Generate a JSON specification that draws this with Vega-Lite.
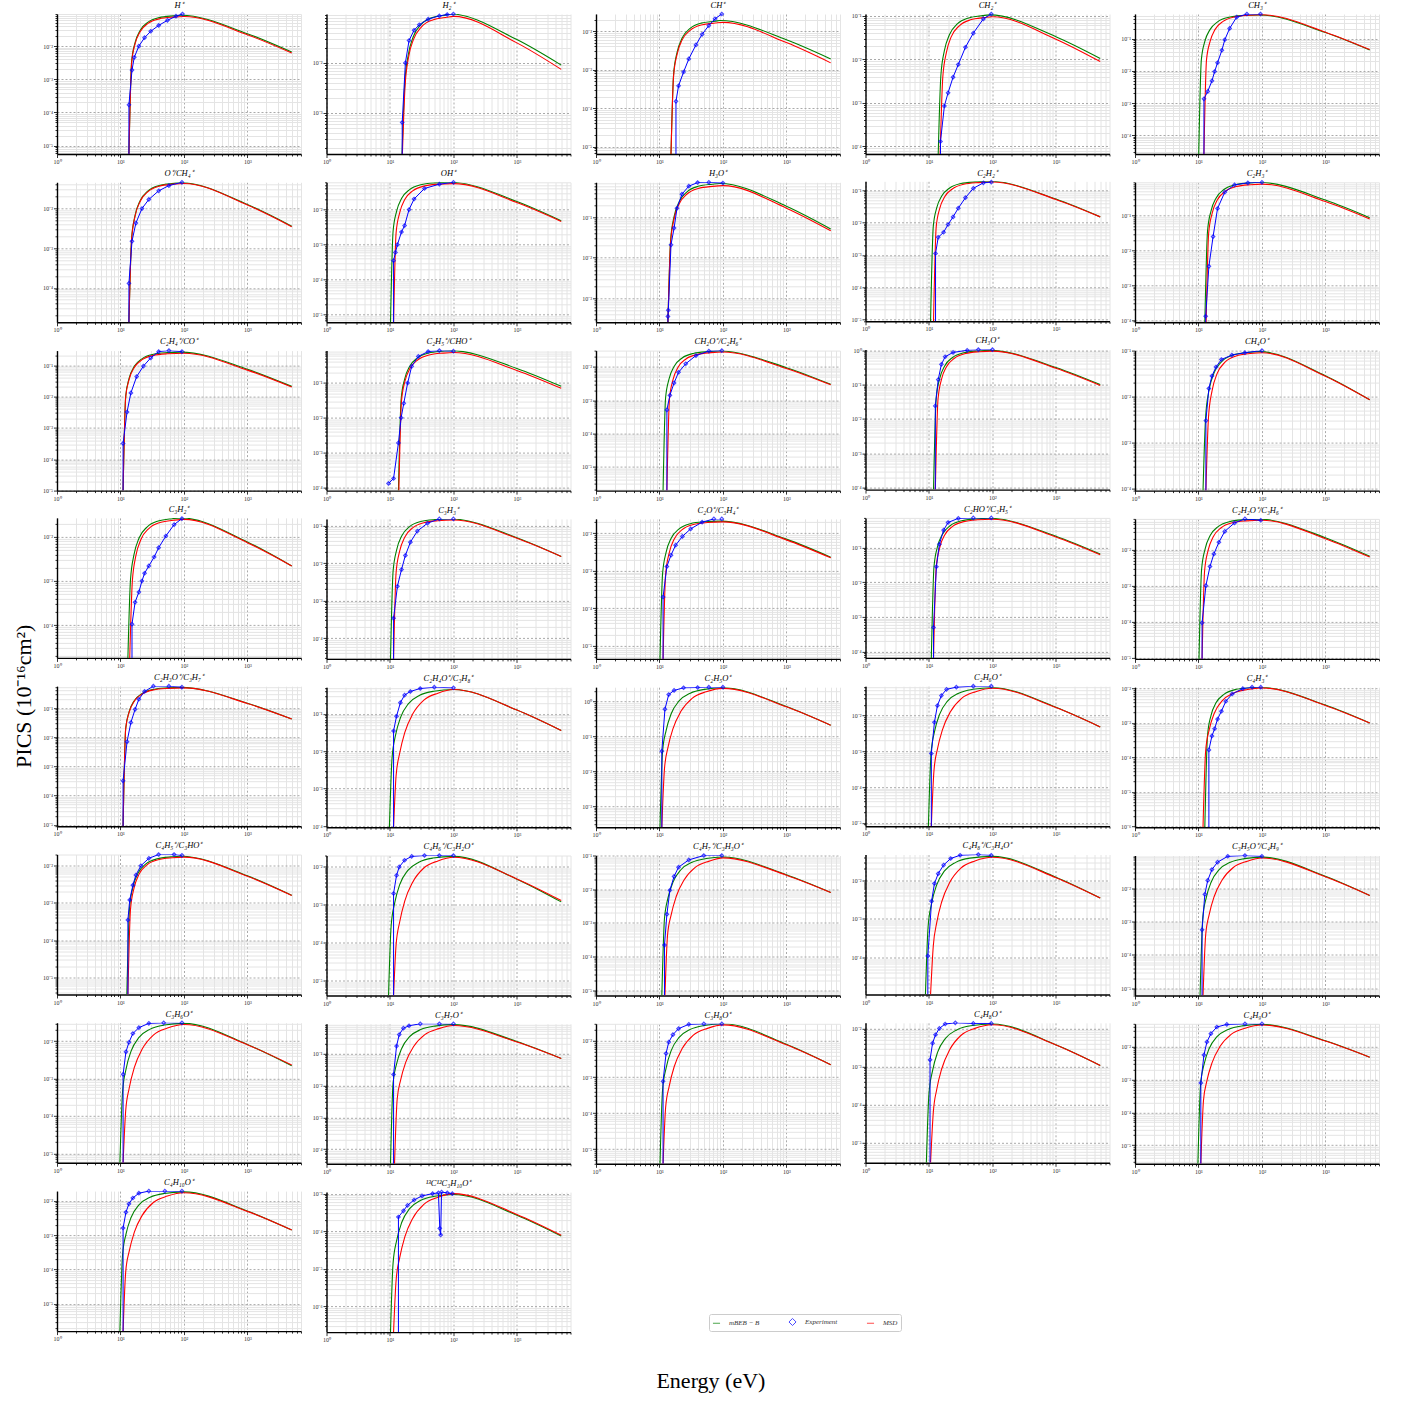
{
"$schema":"https://vega.github.io/schema/vega-lite/v6.json",
"background":"white",
"padding":{"left":13,"top":0,"right":5,"bottom":5},
"config":{"view":{"stroke":null},"font":"Liberation Serif",
"axis":{"grid":true,"labelFontSize":6,"labelFont":"Liberation Serif","labelColor":"#333","labelPadding":1,"labelOverlap":false,"labelFlush":false,"domainColor":"#000","domainWidth":1.4,"tickColor":"#000","tickWidth":0.8,"title":null},
"header":{"labelFont":"Liberation Serif","labelFontStyle":"italic","labelFontSize":8.5,"labelPadding":0.5,"title":null}},
"title":{"text":"PICS (10⁻¹⁶cm²)","orient":"left","anchor":"middle","fontSize":22,"font":"Liberation Serif","fontWeight":"normal","offset":6},
"datasets":{"d":[
{"p":1,"s":"g","x":13.6,"y":5.6e-6},{"p":1,"s":"g","x":15,"y":0.0034},{"p":1,"s":"g","x":17,"y":0.0128},{"p":1,"s":"g","x":20.4,"y":0.0298},{"p":1,"s":"g","x":27.2,"y":0.0527},{"p":1,"s":"g","x":40.8,"y":0.0723},{"p":1,"s":"g","x":68,"y":0.0816},{"p":1,"s":"g","x":90,"y":0.085},{"p":1,"s":"g","x":1000,"y":0.0237},{"p":1,"s":"g","x":5000,"y":0.0066},
{"p":1,"s":"r","x":13.6,"y":5.6e-6},{"p":1,"s":"r","x":15,"y":0.0031},{"p":1,"s":"r","x":17,"y":0.0117},{"p":1,"s":"r","x":20.4,"y":0.0273},{"p":1,"s":"r","x":27.2,"y":0.0484},{"p":1,"s":"r","x":40.8,"y":0.0663},{"p":1,"s":"r","x":68,"y":0.0749},{"p":1,"s":"r","x":100,"y":0.078},{"p":1,"s":"r","x":1000,"y":0.022},{"p":1,"s":"r","x":5000,"y":0.0062},
{"p":1,"s":"e","x":13.6,"y":5.6e-6,"b":1},{"p":1,"s":"e","x":13.6,"y":1.7e-4},{"p":1,"s":"e","x":15.2,"y":1.9e-3},{"p":1,"s":"e","x":16.5,"y":4.6e-3},{"p":1,"s":"e","x":19.5,"y":0.01},{"p":1,"s":"e","x":24,"y":0.018},{"p":1,"s":"e","x":30,"y":0.028},{"p":1,"s":"e","x":40,"y":0.042},{"p":1,"s":"e","x":55,"y":0.06},{"p":1,"s":"e","x":75,"y":0.08},{"p":1,"s":"e","x":95,"y":0.093},
{"p":2,"s":"g","x":15.5,"y":1.5e-4},{"p":2,"s":"g","x":17.1,"y":0.0038},{"p":2,"s":"g","x":19.4,"y":0.0143},{"p":2,"s":"g","x":23.3,"y":0.0333},{"p":2,"s":"g","x":31,"y":0.0589},{"p":2,"s":"g","x":46.5,"y":0.0808},{"p":2,"s":"g","x":77.5,"y":0.0912},{"p":2,"s":"g","x":90,"y":0.095},{"p":2,"s":"g","x":1000,"y":0.0292},{"p":2,"s":"g","x":5000,"y":0.009},
{"p":2,"s":"r","x":15.7,"y":1.5e-4},{"p":2,"s":"r","x":17.3,"y":0.0034},{"p":2,"s":"r","x":19.6,"y":0.0128},{"p":2,"s":"r","x":23.6,"y":0.0298},{"p":2,"s":"r","x":31.4,"y":0.0527},{"p":2,"s":"r","x":47.1,"y":0.0723},{"p":2,"s":"r","x":78.5,"y":0.0816},{"p":2,"s":"r","x":100,"y":0.085},{"p":2,"s":"r","x":1000,"y":0.0251},{"p":2,"s":"r","x":5000,"y":0.0074},
{"p":2,"s":"e","x":15.6,"y":1.5e-4,"b":1},{"p":2,"s":"e","x":15.6,"y":6.4e-4},{"p":2,"s":"e","x":17.5,"y":0.01},{"p":2,"s":"e","x":20,"y":0.028},{"p":2,"s":"e","x":24,"y":0.045},{"p":2,"s":"e","x":29,"y":0.058},{"p":2,"s":"e","x":40,"y":0.075},{"p":2,"s":"e","x":60,"y":0.087},{"p":2,"s":"e","x":80,"y":0.093},{"p":2,"s":"e","x":100,"y":0.095},
{"p":3,"s":"g","x":15.2,"y":6.4e-6},{"p":3,"s":"g","x":16.7,"y":7.6e-4},{"p":3,"s":"g","x":19,"y":2.85e-3},{"p":3,"s":"g","x":22.8,"y":6.65e-3},{"p":3,"s":"g","x":30.4,"y":0.0118},{"p":3,"s":"g","x":45.6,"y":0.0162},{"p":3,"s":"g","x":76,"y":0.0182},{"p":3,"s":"g","x":90,"y":0.019},{"p":3,"s":"g","x":1000,"y":0.006},{"p":3,"s":"g","x":5000,"y":0.0019},
{"p":3,"s":"r","x":15.2,"y":6.4e-6},{"p":3,"s":"r","x":16.7,"y":6.8e-4},{"p":3,"s":"r","x":19,"y":2.55e-3},{"p":3,"s":"r","x":22.8,"y":5.95e-3},{"p":3,"s":"r","x":30.4,"y":0.0105},{"p":3,"s":"r","x":45.6,"y":0.0145},{"p":3,"s":"r","x":76,"y":0.0163},{"p":3,"s":"r","x":100,"y":0.017},{"p":3,"s":"r","x":1000,"y":0.00505},{"p":3,"s":"r","x":5000,"y":0.0015},
{"p":3,"s":"e","x":18.2,"y":6.4e-6,"b":1},{"p":3,"s":"e","x":18.2,"y":1.5e-4},{"p":3,"s":"e","x":20,"y":3.8e-4},{"p":3,"s":"e","x":24,"y":8.7e-4},{"p":3,"s":"e","x":29,"y":1.9e-3},{"p":3,"s":"e","x":37.6,"y":4.4e-3},{"p":3,"s":"e","x":47,"y":8.3e-3},{"p":3,"s":"e","x":60,"y":0.014},{"p":3,"s":"e","x":75,"y":0.021},{"p":3,"s":"e","x":96,"y":0.028},
{"p":4,"s":"g","x":14,"y":6.7e-5},{"p":4,"s":"g","x":15.4,"y":0.0042},{"p":4,"s":"g","x":17.5,"y":0.0158},{"p":4,"s":"g","x":21,"y":0.0368},{"p":4,"s":"g","x":28,"y":0.0651},{"p":4,"s":"g","x":42,"y":0.0893},{"p":4,"s":"g","x":70,"y":0.101},{"p":4,"s":"g","x":90,"y":0.105},{"p":4,"s":"g","x":1000,"y":0.0332},{"p":4,"s":"g","x":5000,"y":0.0105},
{"p":4,"s":"r","x":15,"y":6.7e-5},{"p":4,"s":"r","x":16.5,"y":0.0038},{"p":4,"s":"r","x":18.8,"y":0.0143},{"p":4,"s":"r","x":22.5,"y":0.0333},{"p":4,"s":"r","x":30,"y":0.0589},{"p":4,"s":"r","x":45,"y":0.0808},{"p":4,"s":"r","x":75,"y":0.0912},{"p":4,"s":"r","x":100,"y":0.095},{"p":4,"s":"r","x":1000,"y":0.0291},{"p":4,"s":"r","x":5000,"y":0.0089},
{"p":4,"s":"e","x":15.2,"y":6.7e-5,"b":1},{"p":4,"s":"e","x":15.2,"y":1.3e-4},{"p":4,"s":"e","x":17.5,"y":8.5e-4},{"p":4,"s":"e","x":20,"y":1.7e-3},{"p":4,"s":"e","x":24,"y":3.9e-3},{"p":4,"s":"e","x":29,"y":7.6e-3},{"p":4,"s":"e","x":37.6,"y":0.019},{"p":4,"s":"e","x":50,"y":0.04},{"p":4,"s":"e","x":72,"y":0.085},{"p":4,"s":"e","x":96,"y":0.11},
{"p":5,"s":"g","x":10.1,"y":2.6e-5},{"p":5,"s":"g","x":11.1,"y":0.022},{"p":5,"s":"g","x":12.6,"y":0.0825},{"p":5,"s":"g","x":15.2,"y":0.1925},{"p":5,"s":"g","x":20.2,"y":0.341},{"p":5,"s":"g","x":30.3,"y":0.4675},{"p":5,"s":"g","x":50.5,"y":0.528},{"p":5,"s":"g","x":90,"y":0.55},{"p":5,"s":"g","x":1000,"y":0.157},{"p":5,"s":"g","x":5000,"y":0.045},
{"p":5,"s":"r","x":12.2,"y":2.6e-5},{"p":5,"s":"r","x":13.4,"y":0.0224},{"p":5,"s":"r","x":15.3,"y":0.084},{"p":5,"s":"r","x":18.3,"y":0.196},{"p":5,"s":"r","x":24.4,"y":0.347},{"p":5,"s":"r","x":36.6,"y":0.476},{"p":5,"s":"r","x":61,"y":0.538},{"p":5,"s":"r","x":100,"y":0.56},{"p":5,"s":"r","x":1000,"y":0.1605},{"p":5,"s":"r","x":5000,"y":0.046},
{"p":5,"s":"e","x":12.2,"y":2.6e-5,"b":1},{"p":5,"s":"e","x":12.2,"y":1.35e-3},{"p":5,"s":"e","x":14,"y":2.3e-3},{"p":5,"s":"e","x":16.3,"y":4.9e-3},{"p":5,"s":"e","x":18,"y":9.6e-3},{"p":5,"s":"e","x":20,"y":0.018},{"p":5,"s":"e","x":23.4,"y":0.044},{"p":5,"s":"e","x":26,"y":0.093},{"p":5,"s":"e","x":31,"y":0.21},{"p":5,"s":"e","x":40,"y":0.47},{"p":5,"s":"e","x":58,"y":0.59},{"p":5,"s":"e","x":95,"y":0.59},
{"p":6,"s":"g","x":13.6,"y":1.35e-5},{"p":6,"s":"g","x":15,"y":0.0018},{"p":6,"s":"g","x":17,"y":0.00675},{"p":6,"s":"g","x":20.4,"y":0.01575},{"p":6,"s":"g","x":27.2,"y":0.0279},{"p":6,"s":"g","x":40.8,"y":0.03825},{"p":6,"s":"g","x":68,"y":0.0432},{"p":6,"s":"g","x":90,"y":0.045},{"p":6,"s":"g","x":1000,"y":0.0127},{"p":6,"s":"g","x":5000,"y":0.0036},
{"p":6,"s":"r","x":13.6,"y":1.35e-5},{"p":6,"s":"r","x":15,"y":0.00172},{"p":6,"s":"r","x":17,"y":0.00645},{"p":6,"s":"r","x":20.4,"y":0.01505},{"p":6,"s":"r","x":27.2,"y":0.0267},{"p":6,"s":"r","x":40.8,"y":0.0366},{"p":6,"s":"r","x":68,"y":0.0413},{"p":6,"s":"r","x":100,"y":0.043},{"p":6,"s":"r","x":1000,"y":0.0123},{"p":6,"s":"r","x":5000,"y":0.0035},
{"p":6,"s":"e","x":13.6,"y":1.35e-5,"b":1},{"p":6,"s":"e","x":13.6,"y":1.3e-4},{"p":6,"s":"e","x":15.2,"y":1.5e-3},{"p":6,"s":"e","x":17.5,"y":4.3e-3},{"p":6,"s":"e","x":21.8,"y":0.01},{"p":6,"s":"e","x":28,"y":0.017},{"p":6,"s":"e","x":40,"y":0.028},{"p":6,"s":"e","x":58,"y":0.038},{"p":6,"s":"e","x":93,"y":0.046},
{"p":7,"s":"g","x":10.2,"y":6.1e-6},{"p":7,"s":"g","x":11.2,"y":0.0024},{"p":7,"s":"g","x":12.75,"y":0.009},{"p":7,"s":"g","x":15.3,"y":0.021},{"p":7,"s":"g","x":20.4,"y":0.0372},{"p":7,"s":"g","x":30.6,"y":0.051},{"p":7,"s":"g","x":51,"y":0.0576},{"p":7,"s":"g","x":90,"y":0.06},{"p":7,"s":"g","x":1000,"y":0.017},{"p":7,"s":"g","x":5000,"y":0.0048},
{"p":7,"s":"r","x":11.4,"y":6.1e-6},{"p":7,"s":"r","x":12.5,"y":0.0022},{"p":7,"s":"r","x":14.25,"y":0.00825},{"p":7,"s":"r","x":17.1,"y":0.01925},{"p":7,"s":"r","x":22.8,"y":0.0341},{"p":7,"s":"r","x":34.2,"y":0.04675},{"p":7,"s":"r","x":57,"y":0.0528},{"p":7,"s":"r","x":100,"y":0.055},{"p":7,"s":"r","x":1000,"y":0.0159},{"p":7,"s":"r","x":5000,"y":0.0046},
{"p":7,"s":"e","x":11.4,"y":6.1e-6,"b":1},{"p":7,"s":"e","x":11.4,"y":3.5e-4},{"p":7,"s":"e","x":12.2,"y":6e-4},{"p":7,"s":"e","x":13.1,"y":1e-3},{"p":7,"s":"e","x":15.2,"y":2.3e-3},{"p":7,"s":"e","x":17,"y":3.5e-3},{"p":7,"s":"e","x":20,"y":0.01},{"p":7,"s":"e","x":24,"y":0.02},{"p":7,"s":"e","x":35,"y":0.04},{"p":7,"s":"e","x":60,"y":0.053},{"p":7,"s":"e","x":100,"y":0.06},
{"p":8,"s":"g","x":13.6,"y":2.5e-4},{"p":8,"s":"g","x":15,"y":0.028},{"p":8,"s":"g","x":17,"y":0.105},{"p":8,"s":"g","x":20.4,"y":0.245},{"p":8,"s":"g","x":27.2,"y":0.434},{"p":8,"s":"g","x":40.8,"y":0.595},{"p":8,"s":"g","x":68,"y":0.672},{"p":8,"s":"g","x":90,"y":0.7},{"p":8,"s":"g","x":1000,"y":0.191},{"p":8,"s":"g","x":5000,"y":0.052},
{"p":8,"s":"r","x":13.6,"y":2.5e-4},{"p":8,"s":"r","x":15,"y":0.0248},{"p":8,"s":"r","x":17,"y":0.093},{"p":8,"s":"r","x":20.4,"y":0.217},{"p":8,"s":"r","x":27.2,"y":0.384},{"p":8,"s":"r","x":40.8,"y":0.527},{"p":8,"s":"r","x":68,"y":0.595},{"p":8,"s":"r","x":100,"y":0.62},{"p":8,"s":"r","x":1000,"y":0.171},{"p":8,"s":"r","x":5000,"y":0.047},
{"p":8,"s":"e","x":13.6,"y":2.5e-4,"b":1},{"p":8,"s":"e","x":13.6,"y":3.5e-4},{"p":8,"s":"e","x":13.8,"y":5e-4},{"p":8,"s":"e","x":15.2,"y":0.021},{"p":8,"s":"e","x":17,"y":0.055},{"p":8,"s":"e","x":18.9,"y":0.17},{"p":8,"s":"e","x":22.6,"y":0.38},{"p":8,"s":"e","x":29,"y":0.6},{"p":8,"s":"e","x":40,"y":0.74},{"p":8,"s":"e","x":60,"y":0.75},{"p":8,"s":"e","x":100,"y":0.72},
{"p":9,"s":"g","x":10.6,"y":8.7e-6},{"p":9,"s":"g","x":11.7,"y":0.0076},{"p":9,"s":"g","x":13.25,"y":0.0285},{"p":9,"s":"g","x":15.9,"y":0.0665},{"p":9,"s":"g","x":21.2,"y":0.118},{"p":9,"s":"g","x":31.8,"y":0.1615},{"p":9,"s":"g","x":53,"y":0.182},{"p":9,"s":"g","x":90,"y":0.19},{"p":9,"s":"g","x":1000,"y":0.0534},{"p":9,"s":"g","x":5000,"y":0.015},
{"p":9,"s":"r","x":11.8,"y":8.7e-6},{"p":9,"s":"r","x":13,"y":0.0072},{"p":9,"s":"r","x":14.75,"y":0.027},{"p":9,"s":"r","x":17.7,"y":0.063},{"p":9,"s":"r","x":23.6,"y":0.1116},{"p":9,"s":"r","x":35.4,"y":0.153},{"p":9,"s":"r","x":59,"y":0.1728},{"p":9,"s":"r","x":100,"y":0.18},{"p":9,"s":"r","x":1000,"y":0.052},{"p":9,"s":"r","x":5000,"y":0.015},
{"p":9,"s":"e","x":12.7,"y":8.7e-6,"b":1},{"p":9,"s":"e","x":12.7,"y":1.1e-3},{"p":9,"s":"e","x":14,"y":3.5e-3},{"p":9,"s":"e","x":17,"y":5e-3},{"p":9,"s":"e","x":20,"y":8.7e-3},{"p":9,"s":"e","x":24,"y":0.015},{"p":9,"s":"e","x":29,"y":0.028},{"p":9,"s":"e","x":37.6,"y":0.059},{"p":9,"s":"e","x":50,"y":0.115},{"p":9,"s":"e","x":72,"y":0.17},{"p":9,"s":"e","x":96,"y":0.18},
{"p":10,"s":"g","x":12.6,"y":8.7e-5},{"p":10,"s":"g","x":13.9,"y":0.036},{"p":10,"s":"g","x":15.75,"y":0.135},{"p":10,"s":"g","x":18.9,"y":0.315},{"p":10,"s":"g","x":25.2,"y":0.558},{"p":10,"s":"g","x":37.8,"y":0.765},{"p":10,"s":"g","x":63,"y":0.864},{"p":10,"s":"g","x":90,"y":0.9},{"p":10,"s":"g","x":1000,"y":0.28},{"p":10,"s":"g","x":5000,"y":0.087},
{"p":10,"s":"r","x":13.2,"y":8.7e-5},{"p":10,"s":"r","x":14.5,"y":0.032},{"p":10,"s":"r","x":16.5,"y":0.12},{"p":10,"s":"r","x":19.8,"y":0.28},{"p":10,"s":"r","x":26.4,"y":0.496},{"p":10,"s":"r","x":39.6,"y":0.68},{"p":10,"s":"r","x":66,"y":0.768},{"p":10,"s":"r","x":100,"y":0.8},{"p":10,"s":"r","x":1000,"y":0.253},{"p":10,"s":"r","x":5000,"y":0.08},
{"p":10,"s":"e","x":13,"y":8.7e-5,"b":1},{"p":10,"s":"e","x":13,"y":1.3e-4},{"p":10,"s":"e","x":14.6,"y":3.5e-3},{"p":10,"s":"e","x":17,"y":0.025},{"p":10,"s":"e","x":20,"y":0.16},{"p":10,"s":"e","x":26,"y":0.47},{"p":10,"s":"e","x":37,"y":0.76},{"p":10,"s":"e","x":60,"y":0.87},{"p":10,"s":"e","x":100,"y":0.9},
{"p":11,"s":"g","x":11,"y":1e-5},{"p":11,"s":"g","x":12.1,"y":0.0104},{"p":11,"s":"g","x":13.75,"y":0.039},{"p":11,"s":"g","x":16.5,"y":0.091},{"p":11,"s":"g","x":22,"y":0.161},{"p":11,"s":"g","x":33,"y":0.221},{"p":11,"s":"g","x":55,"y":0.25},{"p":11,"s":"g","x":90,"y":0.26},{"p":11,"s":"g","x":1000,"y":0.0739},{"p":11,"s":"g","x":5000,"y":0.021},
{"p":11,"s":"r","x":11,"y":1e-5},{"p":11,"s":"r","x":12.1,"y":0.0096},{"p":11,"s":"r","x":13.75,"y":0.036},{"p":11,"s":"r","x":16.5,"y":0.084},{"p":11,"s":"r","x":22,"y":0.149},{"p":11,"s":"r","x":33,"y":0.204},{"p":11,"s":"r","x":55,"y":0.23},{"p":11,"s":"r","x":100,"y":0.24},{"p":11,"s":"r","x":1000,"y":0.0693},{"p":11,"s":"r","x":5000,"y":0.02},
{"p":11,"s":"e","x":11,"y":1e-5,"b":1},{"p":11,"s":"e","x":11,"y":3.2e-4},{"p":11,"s":"e","x":12.7,"y":3.2e-3},{"p":11,"s":"e","x":14.6,"y":0.013},{"p":11,"s":"e","x":18,"y":0.043},{"p":11,"s":"e","x":23,"y":0.093},{"p":11,"s":"e","x":30,"y":0.17},{"p":11,"s":"e","x":40,"y":0.27},{"p":11,"s":"e","x":58,"y":0.29},{"p":11,"s":"e","x":93,"y":0.27},
{"p":12,"s":"g","x":13.6,"y":8.1e-5},{"p":12,"s":"g","x":15,"y":0.034},{"p":12,"s":"g","x":17,"y":0.1275},{"p":12,"s":"g","x":20.4,"y":0.2975},{"p":12,"s":"g","x":27.2,"y":0.527},{"p":12,"s":"g","x":40.8,"y":0.7225},{"p":12,"s":"g","x":68,"y":0.816},{"p":12,"s":"g","x":90,"y":0.85},{"p":12,"s":"g","x":1000,"y":0.261},{"p":12,"s":"g","x":5000,"y":0.08},
{"p":12,"s":"r","x":13.8,"y":8.1e-5},{"p":12,"s":"r","x":15.2,"y":0.03},{"p":12,"s":"r","x":17.25,"y":0.1125},{"p":12,"s":"r","x":20.7,"y":0.2625},{"p":12,"s":"r","x":27.6,"y":0.465},{"p":12,"s":"r","x":41.4,"y":0.6375},{"p":12,"s":"r","x":69,"y":0.72},{"p":12,"s":"r","x":100,"y":0.75},{"p":12,"s":"r","x":1000,"y":0.229},{"p":12,"s":"r","x":5000,"y":0.07},
{"p":12,"s":"e","x":9.5,"y":1.3e-4},{"p":12,"s":"e","x":11.4,"y":1.8e-4},{"p":12,"s":"e","x":13.6,"y":1.9e-3},{"p":12,"s":"e","x":15,"y":0.01},{"p":12,"s":"e","x":16.5,"y":0.026},{"p":12,"s":"e","x":19,"y":0.1},{"p":12,"s":"e","x":22,"y":0.3},{"p":12,"s":"e","x":28,"y":0.58},{"p":12,"s":"e","x":40,"y":0.8},{"p":12,"s":"e","x":60,"y":0.85},{"p":12,"s":"e","x":100,"y":0.82},
{"p":13,"s":"g","x":11.4,"y":1.9e-6},{"p":13,"s":"g","x":12.5,"y":0.0012},{"p":13,"s":"g","x":14.25,"y":0.0045},{"p":13,"s":"g","x":17.1,"y":0.0105},{"p":13,"s":"g","x":22.8,"y":0.0186},{"p":13,"s":"g","x":34.2,"y":0.0255},{"p":13,"s":"g","x":57,"y":0.0288},{"p":13,"s":"g","x":90,"y":0.03},{"p":13,"s":"g","x":1000,"y":0.0095},{"p":13,"s":"g","x":5000,"y":0.003},
{"p":13,"s":"r","x":13.1,"y":1.9e-6},{"p":13,"s":"r","x":14.4,"y":0.00112},{"p":13,"s":"r","x":16.4,"y":0.0042},{"p":13,"s":"r","x":19.65,"y":0.0098},{"p":13,"s":"r","x":26.2,"y":0.01736},{"p":13,"s":"r","x":39.3,"y":0.0238},{"p":13,"s":"r","x":65.5,"y":0.02688},{"p":13,"s":"r","x":100,"y":0.028},{"p":13,"s":"r","x":1000,"y":0.009},{"p":13,"s":"r","x":5000,"y":0.0029},
{"p":13,"s":"e","x":13.1,"y":1.9e-6,"b":1},{"p":13,"s":"e","x":13.1,"y":5.1e-4},{"p":13,"s":"e","x":14.6,"y":1.4e-3},{"p":13,"s":"e","x":17,"y":3.3e-3},{"p":13,"s":"e","x":20,"y":6.9e-3},{"p":13,"s":"e","x":26,"y":0.0125},{"p":13,"s":"e","x":37.6,"y":0.022},{"p":13,"s":"e","x":60,"y":0.03},{"p":13,"s":"e","x":96,"y":0.031},
{"p":14,"s":"g","x":11.8,"y":8.7e-5},{"p":14,"s":"g","x":13,"y":0.04},{"p":14,"s":"g","x":14.75,"y":0.15},{"p":14,"s":"g","x":17.7,"y":0.35},{"p":14,"s":"g","x":23.6,"y":0.62},{"p":14,"s":"g","x":35.4,"y":0.85},{"p":14,"s":"g","x":59,"y":0.96},{"p":14,"s":"g","x":90,"y":1.0},{"p":14,"s":"g","x":1000,"y":0.316},{"p":14,"s":"g","x":5000,"y":0.1},
{"p":14,"s":"r","x":12.6,"y":8.7e-5},{"p":14,"s":"r","x":13.9,"y":0.038},{"p":14,"s":"r","x":15.75,"y":0.1425},{"p":14,"s":"r","x":18.9,"y":0.3325},{"p":14,"s":"r","x":25.2,"y":0.589},{"p":14,"s":"r","x":37.8,"y":0.8075},{"p":14,"s":"r","x":63,"y":0.912},{"p":14,"s":"r","x":100,"y":0.95},{"p":14,"s":"r","x":1000,"y":0.3},{"p":14,"s":"r","x":5000,"y":0.095},
{"p":14,"s":"e","x":12.6,"y":8.7e-5,"b":1},{"p":14,"s":"e","x":12.6,"y":0.024},{"p":14,"s":"e","x":14,"y":0.14},{"p":14,"s":"e","x":15.7,"y":0.39},{"p":14,"s":"e","x":18,"y":0.65},{"p":14,"s":"e","x":24,"y":0.87},{"p":14,"s":"e","x":40,"y":1.0},{"p":14,"s":"e","x":60,"y":1.05},{"p":14,"s":"e","x":100,"y":1.05},
{"p":15,"s":"g","x":11.8,"y":9e-5},{"p":15,"s":"g","x":13,"y":0.0038},{"p":15,"s":"g","x":14.75,"y":0.01425},{"p":15,"s":"g","x":17.7,"y":0.03325},{"p":15,"s":"g","x":23.6,"y":0.0589},{"p":15,"s":"g","x":35.4,"y":0.08075},{"p":15,"s":"g","x":59,"y":0.0912},{"p":15,"s":"g","x":90,"y":0.095},{"p":15,"s":"g","x":1000,"y":0.0284},{"p":15,"s":"g","x":5000,"y":0.0085},
{"p":15,"s":"r","x":13.1,"y":9e-5},{"p":15,"s":"r","x":14.4,"y":0.0036},{"p":15,"s":"r","x":16.4,"y":0.0135},{"p":15,"s":"r","x":19.65,"y":0.0315},{"p":15,"s":"r","x":26.2,"y":0.0558},{"p":15,"s":"r","x":39.3,"y":0.0765},{"p":15,"s":"r","x":65.5,"y":0.0864},{"p":15,"s":"r","x":100,"y":0.09},{"p":15,"s":"r","x":1000,"y":0.0277},{"p":15,"s":"r","x":5000,"y":0.0085},
{"p":15,"s":"e","x":13.1,"y":9e-5,"b":1},{"p":15,"s":"e","x":13.1,"y":3e-3},{"p":15,"s":"e","x":14.6,"y":0.015},{"p":15,"s":"e","x":16.3,"y":0.028},{"p":15,"s":"e","x":18.9,"y":0.044},{"p":15,"s":"e","x":23,"y":0.064},{"p":15,"s":"e","x":33.6,"y":0.08},{"p":15,"s":"e","x":54,"y":0.09},{"p":15,"s":"e","x":100,"y":0.1},
{"p":16,"s":"g","x":13.1,"y":1.8e-5},{"p":16,"s":"g","x":14.4,"y":0.00108},{"p":16,"s":"g","x":16.4,"y":0.00405},{"p":16,"s":"g","x":19.65,"y":0.00945},{"p":16,"s":"g","x":26.2,"y":0.01674},{"p":16,"s":"g","x":39.3,"y":0.02295},{"p":16,"s":"g","x":65.5,"y":0.02592},{"p":16,"s":"g","x":90,"y":0.027},{"p":16,"s":"g","x":1000,"y":0.0077},{"p":16,"s":"g","x":5000,"y":0.0022},
{"p":16,"s":"r","x":14,"y":1.8e-5},{"p":16,"s":"r","x":15.4,"y":0.001},{"p":16,"s":"r","x":17.5,"y":0.00375},{"p":16,"s":"r","x":21,"y":0.00875},{"p":16,"s":"r","x":28,"y":0.0155},{"p":16,"s":"r","x":42,"y":0.02125},{"p":16,"s":"r","x":70,"y":0.024},{"p":16,"s":"r","x":100,"y":0.025},{"p":16,"s":"r","x":1000,"y":0.0074},{"p":16,"s":"r","x":5000,"y":0.0022},
{"p":16,"s":"e","x":15.2,"y":1.8e-5,"b":1},{"p":16,"s":"e","x":15.2,"y":1.05e-4},{"p":16,"s":"e","x":17,"y":3.3e-4},{"p":16,"s":"e","x":19.5,"y":5.6e-4},{"p":16,"s":"e","x":21.8,"y":1e-3},{"p":16,"s":"e","x":24,"y":1.5e-3},{"p":16,"s":"e","x":28,"y":2.2e-3},{"p":16,"s":"e","x":34,"y":3.5e-3},{"p":16,"s":"e","x":40,"y":5.7e-3},{"p":16,"s":"e","x":52,"y":0.0105},{"p":16,"s":"e","x":70,"y":0.019},{"p":16,"s":"e","x":93,"y":0.026},
{"p":17,"s":"g","x":10.2,"y":2.8e-5},{"p":17,"s":"g","x":11.2,"y":0.006},{"p":17,"s":"g","x":12.75,"y":0.0225},{"p":17,"s":"g","x":15.3,"y":0.0525},{"p":17,"s":"g","x":20.4,"y":0.093},{"p":17,"s":"g","x":30.6,"y":0.1275},{"p":17,"s":"g","x":51,"y":0.144},{"p":17,"s":"g","x":90,"y":0.15},{"p":17,"s":"g","x":1000,"y":0.0474},{"p":17,"s":"g","x":5000,"y":0.015},
{"p":17,"s":"r","x":11.4,"y":2.8e-5},{"p":17,"s":"r","x":12.5,"y":0.0056},{"p":17,"s":"r","x":14.25,"y":0.021},{"p":17,"s":"r","x":17.1,"y":0.049},{"p":17,"s":"r","x":22.8,"y":0.0868},{"p":17,"s":"r","x":34.2,"y":0.119},{"p":17,"s":"r","x":57,"y":0.1344},{"p":17,"s":"r","x":100,"y":0.14},{"p":17,"s":"r","x":1000,"y":0.0458},{"p":17,"s":"r","x":5000,"y":0.015},
{"p":17,"s":"e","x":11.4,"y":2.8e-5,"b":1},{"p":17,"s":"e","x":11.4,"y":3.4e-4},{"p":17,"s":"e","x":13.1,"y":2.4e-3},{"p":17,"s":"e","x":15.2,"y":6.7e-3},{"p":17,"s":"e","x":17.5,"y":0.016},{"p":17,"s":"e","x":21,"y":0.036},{"p":17,"s":"e","x":27,"y":0.071},{"p":17,"s":"e","x":39,"y":0.115},{"p":17,"s":"e","x":60,"y":0.15},{"p":17,"s":"e","x":100,"y":0.15},
{"p":18,"s":"g","x":10.2,"y":4.5e-6},{"p":18,"s":"g","x":11.2,"y":8.4e-4},{"p":18,"s":"g","x":12.75,"y":3.15e-3},{"p":18,"s":"g","x":15.3,"y":7.35e-3},{"p":18,"s":"g","x":20.4,"y":0.013},{"p":18,"s":"g","x":30.6,"y":0.01785},{"p":18,"s":"g","x":51,"y":0.0202},{"p":18,"s":"g","x":90,"y":0.021},{"p":18,"s":"g","x":1000,"y":0.00695},{"p":18,"s":"g","x":5000,"y":0.0023},
{"p":18,"s":"r","x":11.4,"y":4.5e-6},{"p":18,"s":"r","x":12.5,"y":8e-4},{"p":18,"s":"r","x":14.25,"y":3e-3},{"p":18,"s":"r","x":17.1,"y":7e-3},{"p":18,"s":"r","x":22.8,"y":0.0124},{"p":18,"s":"r","x":34.2,"y":0.017},{"p":18,"s":"r","x":57,"y":0.0192},{"p":18,"s":"r","x":100,"y":0.02},{"p":18,"s":"r","x":1000,"y":0.00663},{"p":18,"s":"r","x":5000,"y":0.0022},
{"p":18,"s":"e","x":11.4,"y":4.5e-6,"b":1},{"p":18,"s":"e","x":11.4,"y":2e-4},{"p":18,"s":"e","x":13.1,"y":1.3e-3},{"p":18,"s":"e","x":15.2,"y":2.6e-3},{"p":18,"s":"e","x":18,"y":4.8e-3},{"p":18,"s":"e","x":23,"y":8.2e-3},{"p":18,"s":"e","x":31,"y":0.013},{"p":18,"s":"e","x":47,"y":0.0196},{"p":18,"s":"e","x":72,"y":0.024},{"p":18,"s":"e","x":96,"y":0.024},
{"p":19,"s":"g","x":10.9,"y":6.6e-5},{"p":19,"s":"g","x":12,"y":0.028},{"p":19,"s":"g","x":13.6,"y":0.105},{"p":19,"s":"g","x":16.35,"y":0.245},{"p":19,"s":"g","x":21.8,"y":0.434},{"p":19,"s":"g","x":32.7,"y":0.595},{"p":19,"s":"g","x":54.5,"y":0.672},{"p":19,"s":"g","x":90,"y":0.7},{"p":19,"s":"g","x":1000,"y":0.213},{"p":19,"s":"g","x":5000,"y":0.065},
{"p":19,"s":"r","x":11.8,"y":6.6e-5},{"p":19,"s":"r","x":13,"y":0.0264},{"p":19,"s":"r","x":14.75,"y":0.099},{"p":19,"s":"r","x":17.7,"y":0.231},{"p":19,"s":"r","x":23.6,"y":0.409},{"p":19,"s":"r","x":35.4,"y":0.561},{"p":19,"s":"r","x":59,"y":0.634},{"p":19,"s":"r","x":100,"y":0.66},{"p":19,"s":"r","x":1000,"y":0.202},{"p":19,"s":"r","x":5000,"y":0.062},
{"p":19,"s":"e","x":11.8,"y":6.6e-5,"b":1},{"p":19,"s":"e","x":11.8,"y":5e-4},{"p":19,"s":"e","x":13.1,"y":0.028},{"p":19,"s":"e","x":14.6,"y":0.125},{"p":19,"s":"e","x":17,"y":0.32},{"p":19,"s":"e","x":20,"y":0.53},{"p":19,"s":"e","x":29,"y":0.7},{"p":19,"s":"e","x":50,"y":0.72},{"p":19,"s":"e","x":96,"y":0.72},
{"p":20,"s":"g","x":10.2,"y":9.3e-6},{"p":20,"s":"g","x":11.2,"y":0.0028},{"p":20,"s":"g","x":12.75,"y":0.0105},{"p":20,"s":"g","x":15.3,"y":0.0245},{"p":20,"s":"g","x":20.4,"y":0.0434},{"p":20,"s":"g","x":30.6,"y":0.0595},{"p":20,"s":"g","x":51,"y":0.0672},{"p":20,"s":"g","x":90,"y":0.07},{"p":20,"s":"g","x":1000,"y":0.0213},{"p":20,"s":"g","x":5000,"y":0.0065},
{"p":20,"s":"r","x":11.4,"y":9.3e-6},{"p":20,"s":"r","x":12.5,"y":0.0026},{"p":20,"s":"r","x":14.25,"y":0.00975},{"p":20,"s":"r","x":17.1,"y":0.02275},{"p":20,"s":"r","x":22.8,"y":0.0403},{"p":20,"s":"r","x":34.2,"y":0.05525},{"p":20,"s":"r","x":57,"y":0.0624},{"p":20,"s":"r","x":100,"y":0.065},{"p":20,"s":"r","x":1000,"y":0.0201},{"p":20,"s":"r","x":5000,"y":0.0062},
{"p":20,"s":"e","x":11.4,"y":9.3e-6,"b":1},{"p":20,"s":"e","x":11.4,"y":9.3e-5},{"p":20,"s":"e","x":13.1,"y":1e-3},{"p":20,"s":"e","x":15.2,"y":3.4e-3},{"p":20,"s":"e","x":17.5,"y":7.6e-3},{"p":20,"s":"e","x":21,"y":0.016},{"p":20,"s":"e","x":26,"y":0.032},{"p":20,"s":"e","x":37,"y":0.055},{"p":20,"s":"e","x":54,"y":0.071},{"p":20,"s":"e","x":96,"y":0.065},
{"p":21,"s":"g","x":11,"y":8.9e-6},{"p":21,"s":"g","x":12.1,"y":0.0204},{"p":21,"s":"g","x":13.75,"y":0.0765},{"p":21,"s":"g","x":16.5,"y":0.1785},{"p":21,"s":"g","x":22,"y":0.316},{"p":21,"s":"g","x":33,"y":0.4335},{"p":21,"s":"g","x":55,"y":0.49},{"p":21,"s":"g","x":90,"y":0.51},{"p":21,"s":"g","x":1000,"y":0.146},{"p":21,"s":"g","x":5000,"y":0.042},
{"p":21,"s":"r","x":11,"y":8.9e-6},{"p":21,"s":"r","x":12.1,"y":0.0196},{"p":21,"s":"r","x":13.75,"y":0.0735},{"p":21,"s":"r","x":16.5,"y":0.1715},{"p":21,"s":"r","x":22,"y":0.304},{"p":21,"s":"r","x":33,"y":0.4165},{"p":21,"s":"r","x":55,"y":0.47},{"p":21,"s":"r","x":100,"y":0.49},{"p":21,"s":"r","x":1000,"y":0.143},{"p":21,"s":"r","x":5000,"y":0.042},
{"p":21,"s":"e","x":11,"y":8.9e-6,"b":1},{"p":21,"s":"e","x":11,"y":3.2e-4},{"p":21,"s":"e","x":12.7,"y":7e-3},{"p":21,"s":"e","x":14.6,"y":0.032},{"p":21,"s":"e","x":17,"y":0.09},{"p":21,"s":"e","x":19.5,"y":0.2},{"p":21,"s":"e","x":24,"y":0.37},{"p":21,"s":"e","x":33,"y":0.56},{"p":21,"s":"e","x":58,"y":0.56},{"p":21,"s":"e","x":93,"y":0.52},
{"p":22,"s":"g","x":9.8,"y":9.3e-5},{"p":22,"s":"g","x":10.8,"y":0.00675},{"p":22,"s":"g","x":12.25,"y":0.027},{"p":22,"s":"g","x":14.7,"y":0.081},{"p":22,"s":"g","x":19.6,"y":0.189},{"p":22,"s":"g","x":29.4,"y":0.315},{"p":22,"s":"g","x":49,"y":0.405},{"p":22,"s":"g","x":100,"y":0.45},{"p":22,"s":"g","x":1000,"y":0.127},{"p":22,"s":"g","x":5000,"y":0.036},
{"p":22,"s":"r","x":11.4,"y":9.3e-5},{"p":22,"s":"r","x":12.5,"y":0.00225},{"p":22,"s":"r","x":14.25,"y":0.009},{"p":22,"s":"r","x":17.1,"y":0.0315},{"p":22,"s":"r","x":22.8,"y":0.099},{"p":22,"s":"r","x":34.2,"y":0.234},{"p":22,"s":"r","x":57,"y":0.36},{"p":22,"s":"r","x":100,"y":0.45},{"p":22,"s":"r","x":1000,"y":0.127},{"p":22,"s":"r","x":5000,"y":0.036},
{"p":22,"s":"e","x":11.4,"y":9.3e-5,"b":1},{"p":22,"s":"e","x":11.4,"y":0.035},{"p":22,"s":"e","x":12.7,"y":0.087},{"p":22,"s":"e","x":14.6,"y":0.2},{"p":22,"s":"e","x":17,"y":0.32},{"p":22,"s":"e","x":21,"y":0.4},{"p":22,"s":"e","x":30,"y":0.48},{"p":22,"s":"e","x":50,"y":0.52},{"p":22,"s":"e","x":100,"y":0.5},
{"p":23,"s":"g","x":10.2,"y":2.5e-4},{"p":23,"s":"g","x":11.2,"y":0.0375},{"p":23,"s":"g","x":12.75,"y":0.15},{"p":23,"s":"g","x":15.3,"y":0.45},{"p":23,"s":"g","x":20.4,"y":1.05},{"p":23,"s":"g","x":30.6,"y":1.75},{"p":23,"s":"g","x":51,"y":2.25},{"p":23,"s":"g","x":100,"y":2.5},{"p":23,"s":"g","x":1000,"y":0.725},{"p":23,"s":"g","x":5000,"y":0.21},
{"p":23,"s":"r","x":10.9,"y":2.5e-4},{"p":23,"s":"r","x":12,"y":0.012},{"p":23,"s":"r","x":13.6,"y":0.048},{"p":23,"s":"r","x":16.35,"y":0.168},{"p":23,"s":"r","x":21.8,"y":0.528},{"p":23,"s":"r","x":32.7,"y":1.248},{"p":23,"s":"r","x":54.5,"y":1.92},{"p":23,"s":"r","x":100,"y":2.4},{"p":23,"s":"r","x":1000,"y":0.71},{"p":23,"s":"r","x":5000,"y":0.21},
{"p":23,"s":"e","x":10.9,"y":2.5e-4,"b":1},{"p":23,"s":"e","x":10.9,"y":0.038},{"p":23,"s":"e","x":12.2,"y":0.61},{"p":23,"s":"e","x":14,"y":1.6},{"p":23,"s":"e","x":17,"y":2.1},{"p":23,"s":"e","x":24,"y":2.5},{"p":23,"s":"e","x":40,"y":2.55},{"p":23,"s":"e","x":60,"y":2.6},{"p":23,"s":"e","x":100,"y":2.6},
{"p":24,"s":"g","x":9.8,"y":8.1e-6},{"p":24,"s":"g","x":10.8,"y":9e-4},{"p":24,"s":"g","x":12.25,"y":3.6e-3},{"p":24,"s":"g","x":14.7,"y":0.0108},{"p":24,"s":"g","x":19.6,"y":0.0252},{"p":24,"s":"g","x":29.4,"y":0.042},{"p":24,"s":"g","x":49,"y":0.054},{"p":24,"s":"g","x":100,"y":0.06},{"p":24,"s":"g","x":1000,"y":0.017},{"p":24,"s":"g","x":5000,"y":0.0048},
{"p":24,"s":"r","x":10.9,"y":8.1e-6},{"p":24,"s":"r","x":12,"y":2.9e-4},{"p":24,"s":"r","x":13.6,"y":1.16e-3},{"p":24,"s":"r","x":16.35,"y":4.06e-3},{"p":24,"s":"r","x":21.8,"y":0.01276},{"p":24,"s":"r","x":32.7,"y":0.03016},{"p":24,"s":"r","x":54.5,"y":0.0464},{"p":24,"s":"r","x":100,"y":0.058},{"p":24,"s":"r","x":1000,"y":0.0167},{"p":24,"s":"r","x":5000,"y":0.0048},
{"p":24,"s":"e","x":10.9,"y":8.1e-6,"b":1},{"p":24,"s":"e","x":10.9,"y":8.7e-4},{"p":24,"s":"e","x":12.2,"y":6.5e-3},{"p":24,"s":"e","x":13.6,"y":0.019},{"p":24,"s":"e","x":15.7,"y":0.036},{"p":24,"s":"e","x":18.9,"y":0.054},{"p":24,"s":"e","x":27,"y":0.062},{"p":24,"s":"e","x":50,"y":0.066},{"p":24,"s":"e","x":96,"y":0.066},
{"p":25,"s":"g","x":12.6,"y":9.3e-7},{"p":25,"s":"g","x":13.9,"y":4.4e-4},{"p":25,"s":"g","x":15.75,"y":1.65e-3},{"p":25,"s":"g","x":18.9,"y":3.85e-3},{"p":25,"s":"g","x":25.2,"y":6.82e-3},{"p":25,"s":"g","x":37.8,"y":9.35e-3},{"p":25,"s":"g","x":63,"y":0.01056},{"p":25,"s":"g","x":90,"y":0.011},{"p":25,"s":"g","x":1000,"y":0.00332},{"p":25,"s":"g","x":5000,"y":0.001},
{"p":25,"s":"r","x":11.8,"y":9.3e-7},{"p":25,"s":"r","x":13,"y":1.58e-4},{"p":25,"s":"r","x":14.75,"y":6.3e-4},{"p":25,"s":"r","x":17.7,"y":1.89e-3},{"p":25,"s":"r","x":23.6,"y":4.41e-3},{"p":25,"s":"r","x":35.4,"y":7.35e-3},{"p":25,"s":"r","x":59,"y":9.45e-3},{"p":25,"s":"r","x":100,"y":0.0105},{"p":25,"s":"r","x":1000,"y":0.00324},{"p":25,"s":"r","x":5000,"y":0.001},
{"p":25,"s":"e","x":14.6,"y":9.3e-7,"b":1},{"p":25,"s":"e","x":14.6,"y":1.65e-4},{"p":25,"s":"e","x":16.3,"y":4.2e-4},{"p":25,"s":"e","x":18,"y":6.8e-4},{"p":25,"s":"e","x":20,"y":1.3e-3},{"p":25,"s":"e","x":23,"y":2.2e-3},{"p":25,"s":"e","x":27,"y":4.3e-3},{"p":25,"s":"e","x":34,"y":7e-3},{"p":25,"s":"e","x":50,"y":0.01},{"p":25,"s":"e","x":70,"y":0.011},{"p":25,"s":"e","x":96,"y":0.011},
{"p":26,"s":"g","x":12.6,"y":3.5e-6},{"p":26,"s":"g","x":13.9,"y":7.2e-4},{"p":26,"s":"g","x":15.75,"y":2.7e-3},{"p":26,"s":"g","x":18.9,"y":6.3e-3},{"p":26,"s":"g","x":25.2,"y":0.01116},{"p":26,"s":"g","x":37.8,"y":0.0153},{"p":26,"s":"g","x":63,"y":0.01728},{"p":26,"s":"g","x":90,"y":0.018},{"p":26,"s":"g","x":1000,"y":0.00537},{"p":26,"s":"g","x":5000,"y":0.0016},
{"p":26,"s":"r","x":13.1,"y":3.5e-6},{"p":26,"s":"r","x":14.4,"y":6.8e-4},{"p":26,"s":"r","x":16.4,"y":2.55e-3},{"p":26,"s":"r","x":19.65,"y":5.95e-3},{"p":26,"s":"r","x":26.2,"y":0.01054},{"p":26,"s":"r","x":39.3,"y":0.01445},{"p":26,"s":"r","x":65.5,"y":0.01632},{"p":26,"s":"r","x":100,"y":0.017},{"p":26,"s":"r","x":1000,"y":0.00522},{"p":26,"s":"r","x":5000,"y":0.0016},
{"p":26,"s":"e","x":13.1,"y":3.5e-6,"b":1},{"p":26,"s":"e","x":13.1,"y":3.5e-4},{"p":26,"s":"e","x":14,"y":1.2e-3},{"p":26,"s":"e","x":15.7,"y":3e-3},{"p":26,"s":"e","x":17.5,"y":5.6e-3},{"p":26,"s":"e","x":21,"y":0.01},{"p":26,"s":"e","x":28,"y":0.0158},{"p":26,"s":"e","x":40,"y":0.02},{"p":26,"s":"e","x":70,"y":0.02},{"p":26,"s":"e","x":93,"y":0.019},
{"p":27,"s":"g","x":9.5,"y":4.1e-6},{"p":27,"s":"g","x":10.45,"y":2.85e-4},{"p":27,"s":"g","x":11.9,"y":1.14e-3},{"p":27,"s":"g","x":14.25,"y":3.42e-3},{"p":27,"s":"g","x":19,"y":7.98e-3},{"p":27,"s":"g","x":28.5,"y":0.0133},{"p":27,"s":"g","x":47.5,"y":0.0171},{"p":27,"s":"g","x":100,"y":0.019},{"p":27,"s":"g","x":1000,"y":0.00477},{"p":27,"s":"g","x":5000,"y":0.0012},
{"p":27,"s":"r","x":11.4,"y":4.1e-6},{"p":27,"s":"r","x":12.5,"y":9e-5},{"p":27,"s":"r","x":14.25,"y":3.6e-4},{"p":27,"s":"r","x":17.1,"y":1.26e-3},{"p":27,"s":"r","x":22.8,"y":3.96e-3},{"p":27,"s":"r","x":34.2,"y":9.36e-3},{"p":27,"s":"r","x":57,"y":0.0144},{"p":27,"s":"r","x":100,"y":0.018},{"p":27,"s":"r","x":1000,"y":0.00484},{"p":27,"s":"r","x":5000,"y":0.0013},
{"p":27,"s":"e","x":11.4,"y":4.1e-6,"b":1},{"p":27,"s":"e","x":11.4,"y":2e-3},{"p":27,"s":"e","x":12.7,"y":6e-3},{"p":27,"s":"e","x":14,"y":0.01},{"p":27,"s":"e","x":17,"y":0.015},{"p":27,"s":"e","x":22,"y":0.019},{"p":27,"s":"e","x":35,"y":0.02},{"p":27,"s":"e","x":60,"y":0.02},{"p":27,"s":"e","x":100,"y":0.02},
{"p":28,"s":"g","x":10.9,"y":7e-6},{"p":28,"s":"g","x":12,"y":1.35e-3},{"p":28,"s":"g","x":13.6,"y":5.4e-3},{"p":28,"s":"g","x":16.35,"y":0.0162},{"p":28,"s":"g","x":21.8,"y":0.0378},{"p":28,"s":"g","x":32.7,"y":0.063},{"p":28,"s":"g","x":54.5,"y":0.081},{"p":28,"s":"g","x":100,"y":0.09},{"p":28,"s":"g","x":1000,"y":0.0268},{"p":28,"s":"g","x":5000,"y":0.008},
{"p":28,"s":"r","x":12.2,"y":7e-6},{"p":28,"s":"r","x":13.4,"y":4.25e-4},{"p":28,"s":"r","x":15.25,"y":1.7e-3},{"p":28,"s":"r","x":18.3,"y":5.95e-3},{"p":28,"s":"r","x":24.4,"y":0.0187},{"p":28,"s":"r","x":36.6,"y":0.0442},{"p":28,"s":"r","x":61,"y":0.068},{"p":28,"s":"r","x":100,"y":0.085},{"p":28,"s":"r","x":1000,"y":0.0261},{"p":28,"s":"r","x":5000,"y":0.008},
{"p":28,"s":"e","x":12,"y":7e-6,"b":1},{"p":28,"s":"e","x":12,"y":2.2e-4},{"p":28,"s":"e","x":13.1,"y":1.8e-3},{"p":28,"s":"e","x":14.6,"y":9.3e-3},{"p":28,"s":"e","x":17,"y":0.024},{"p":28,"s":"e","x":20,"y":0.045},{"p":28,"s":"e","x":29,"y":0.074},{"p":28,"s":"e","x":50,"y":0.1},{"p":28,"s":"e","x":96,"y":0.1},
{"p":29,"s":"g","x":8.8,"y":1.1e-5},{"p":29,"s":"g","x":9.7,"y":6.3e-4},{"p":29,"s":"g","x":11,"y":2.52e-3},{"p":29,"s":"g","x":13.2,"y":7.56e-3},{"p":29,"s":"g","x":17.6,"y":0.01764},{"p":29,"s":"g","x":26.4,"y":0.0294},{"p":29,"s":"g","x":44,"y":0.0378},{"p":29,"s":"g","x":100,"y":0.042},{"p":29,"s":"g","x":1000,"y":0.0121},{"p":29,"s":"g","x":5000,"y":0.0035},
{"p":29,"s":"r","x":10.6,"y":1.1e-5},{"p":29,"s":"r","x":11.7,"y":2e-4},{"p":29,"s":"r","x":13.25,"y":8e-4},{"p":29,"s":"r","x":15.9,"y":2.8e-3},{"p":29,"s":"r","x":21.2,"y":8.8e-3},{"p":29,"s":"r","x":31.8,"y":0.0208},{"p":29,"s":"r","x":53,"y":0.032},{"p":29,"s":"r","x":100,"y":0.04},{"p":29,"s":"r","x":1000,"y":0.0118},{"p":29,"s":"r","x":5000,"y":0.0035},
{"p":29,"s":"e","x":9.6,"y":1.1e-5,"b":1},{"p":29,"s":"e","x":9.6,"y":1.1e-4},{"p":29,"s":"e","x":11,"y":2.9e-3},{"p":29,"s":"e","x":12.2,"y":8.3e-3},{"p":29,"s":"e","x":14,"y":0.015},{"p":29,"s":"e","x":17,"y":0.025},{"p":29,"s":"e","x":22,"y":0.037},{"p":29,"s":"e","x":31,"y":0.045},{"p":29,"s":"e","x":60,"y":0.047},{"p":29,"s":"e","x":96,"y":0.045},
{"p":30,"s":"g","x":10.6,"y":6e-6},{"p":30,"s":"g","x":11.7,"y":1.28e-3},{"p":30,"s":"g","x":13.25,"y":5.1e-3},{"p":30,"s":"g","x":15.9,"y":0.0153},{"p":30,"s":"g","x":21.2,"y":0.0357},{"p":30,"s":"g","x":31.8,"y":0.0595},{"p":30,"s":"g","x":53,"y":0.0765},{"p":30,"s":"g","x":100,"y":0.085},{"p":30,"s":"g","x":1000,"y":0.0226},{"p":30,"s":"g","x":5000,"y":0.006},
{"p":30,"s":"r","x":11.8,"y":6e-6},{"p":30,"s":"r","x":13,"y":4e-4},{"p":30,"s":"r","x":14.75,"y":1.6e-3},{"p":30,"s":"r","x":17.7,"y":5.6e-3},{"p":30,"s":"r","x":23.6,"y":0.0176},{"p":30,"s":"r","x":35.4,"y":0.0416},{"p":30,"s":"r","x":59,"y":0.064},{"p":30,"s":"r","x":100,"y":0.08},{"p":30,"s":"r","x":1000,"y":0.0219},{"p":30,"s":"r","x":5000,"y":0.006},
{"p":30,"s":"e","x":11.4,"y":6e-6,"b":1},{"p":30,"s":"e","x":11.4,"y":5.6e-4},{"p":30,"s":"e","x":12.6,"y":6.5e-3},{"p":30,"s":"e","x":14,"y":0.017},{"p":30,"s":"e","x":16.3,"y":0.036},{"p":30,"s":"e","x":20,"y":0.06},{"p":30,"s":"e","x":29,"y":0.09},{"p":30,"s":"e","x":54,"y":0.095},{"p":30,"s":"e","x":100,"y":0.09},
{"p":31,"s":"g","x":9.8,"y":5.6e-6},{"p":31,"s":"g","x":10.8,"y":4.5e-4},{"p":31,"s":"g","x":12.25,"y":1.8e-3},{"p":31,"s":"g","x":14.7,"y":5.4e-3},{"p":31,"s":"g","x":19.6,"y":0.0126},{"p":31,"s":"g","x":29.4,"y":0.021},{"p":31,"s":"g","x":49,"y":0.027},{"p":31,"s":"g","x":100,"y":0.03},{"p":31,"s":"g","x":1000,"y":0.00812},{"p":31,"s":"g","x":5000,"y":0.0022},
{"p":31,"s":"r","x":11,"y":5.6e-6},{"p":31,"s":"r","x":12.1,"y":1.4e-4},{"p":31,"s":"r","x":13.75,"y":5.6e-4},{"p":31,"s":"r","x":16.5,"y":1.96e-3},{"p":31,"s":"r","x":22,"y":6.16e-3},{"p":31,"s":"r","x":33,"y":0.01456},{"p":31,"s":"r","x":55,"y":0.0224},{"p":31,"s":"r","x":100,"y":0.028},{"p":31,"s":"r","x":1000,"y":0.00802},{"p":31,"s":"r","x":5000,"y":0.0023},
{"p":31,"s":"e","x":11,"y":5.6e-6,"b":1},{"p":31,"s":"e","x":11,"y":1.3e-3},{"p":31,"s":"e","x":12.2,"y":5.2e-3},{"p":31,"s":"e","x":13.6,"y":9.3e-3},{"p":31,"s":"e","x":15.7,"y":0.016},{"p":31,"s":"e","x":19.5,"y":0.023},{"p":31,"s":"e","x":28,"y":0.03},{"p":31,"s":"e","x":48,"y":0.031},{"p":31,"s":"e","x":93,"y":0.031},
{"p":32,"s":"g","x":10.2,"y":3.5e-5},{"p":32,"s":"g","x":11.2,"y":0.012},{"p":32,"s":"g","x":12.75,"y":0.048},{"p":32,"s":"g","x":15.3,"y":0.144},{"p":32,"s":"g","x":20.4,"y":0.336},{"p":32,"s":"g","x":30.6,"y":0.56},{"p":32,"s":"g","x":51,"y":0.72},{"p":32,"s":"g","x":100,"y":0.8},{"p":32,"s":"g","x":1000,"y":0.237},{"p":32,"s":"g","x":5000,"y":0.07},
{"p":32,"s":"r","x":11.8,"y":3.5e-5},{"p":32,"s":"r","x":13,"y":0.00375},{"p":32,"s":"r","x":14.75,"y":0.015},{"p":32,"s":"r","x":17.7,"y":0.0525},{"p":32,"s":"r","x":23.6,"y":0.165},{"p":32,"s":"r","x":35.4,"y":0.39},{"p":32,"s":"r","x":59,"y":0.6},{"p":32,"s":"r","x":100,"y":0.75},{"p":32,"s":"r","x":1000,"y":0.229},{"p":32,"s":"r","x":5000,"y":0.07},
{"p":32,"s":"e","x":11.4,"y":3.5e-5,"b":1},{"p":32,"s":"e","x":11.4,"y":0.022},{"p":32,"s":"e","x":12.7,"y":0.17},{"p":32,"s":"e","x":14,"y":0.39},{"p":32,"s":"e","x":16.3,"y":0.62},{"p":32,"s":"e","x":20,"y":0.74},{"p":32,"s":"e","x":30,"y":0.85},{"p":32,"s":"e","x":60,"y":0.85},{"p":32,"s":"e","x":100,"y":0.85},
{"p":33,"s":"g","x":10.2,"y":3.9e-6},{"p":33,"s":"g","x":11.2,"y":4.5e-4},{"p":33,"s":"g","x":12.75,"y":1.8e-3},{"p":33,"s":"g","x":15.3,"y":5.4e-3},{"p":33,"s":"g","x":20.4,"y":0.0126},{"p":33,"s":"g","x":30.6,"y":0.021},{"p":33,"s":"g","x":51,"y":0.027},{"p":33,"s":"g","x":100,"y":0.03},{"p":33,"s":"g","x":1000,"y":0.00812},{"p":33,"s":"g","x":5000,"y":0.0022},
{"p":33,"s":"r","x":11.4,"y":3.9e-6},{"p":33,"s":"r","x":12.5,"y":1.4e-4},{"p":33,"s":"r","x":14.25,"y":5.6e-4},{"p":33,"s":"r","x":17.1,"y":1.96e-3},{"p":33,"s":"r","x":22.8,"y":6.16e-3},{"p":33,"s":"r","x":34.2,"y":0.01456},{"p":33,"s":"r","x":57,"y":0.0224},{"p":33,"s":"r","x":100,"y":0.028},{"p":33,"s":"r","x":1000,"y":0.00785},{"p":33,"s":"r","x":5000,"y":0.0022},
{"p":33,"s":"e","x":11.4,"y":3.9e-6,"b":1},{"p":33,"s":"e","x":11.4,"y":7.6e-4},{"p":33,"s":"e","x":12.7,"y":4.5e-3},{"p":33,"s":"e","x":14,"y":9.3e-3},{"p":33,"s":"e","x":16.3,"y":0.015},{"p":33,"s":"e","x":20,"y":0.022},{"p":33,"s":"e","x":29,"y":0.029},{"p":33,"s":"e","x":50,"y":0.03},{"p":33,"s":"e","x":96,"y":0.03},
{"p":34,"s":"g","x":9.1,"y":3e-6},{"p":34,"s":"g","x":10,"y":1.95e-4},{"p":34,"s":"g","x":11.4,"y":7.8e-4},{"p":34,"s":"g","x":13.65,"y":2.34e-3},{"p":34,"s":"g","x":18.2,"y":5.46e-3},{"p":34,"s":"g","x":27.3,"y":9.1e-3},{"p":34,"s":"g","x":45.5,"y":0.0117},{"p":34,"s":"g","x":100,"y":0.013},{"p":34,"s":"g","x":1000,"y":0.00373},{"p":34,"s":"g","x":5000,"y":0.00107},
{"p":34,"s":"r","x":10.6,"y":3e-6},{"p":34,"s":"r","x":11.7,"y":6.25e-5},{"p":34,"s":"r","x":13.25,"y":2.5e-4},{"p":34,"s":"r","x":15.9,"y":8.75e-4},{"p":34,"s":"r","x":21.2,"y":2.75e-3},{"p":34,"s":"r","x":31.8,"y":6.5e-3},{"p":34,"s":"r","x":53,"y":0.01},{"p":34,"s":"r","x":100,"y":0.0125},{"p":34,"s":"r","x":1000,"y":0.00366},{"p":34,"s":"r","x":5000,"y":0.00107},
{"p":34,"s":"e","x":10.4,"y":3e-6,"b":1},{"p":34,"s":"e","x":10.4,"y":1.5e-3},{"p":34,"s":"e","x":11.4,"y":4.1e-3},{"p":34,"s":"e","x":12.7,"y":6.8e-3},{"p":34,"s":"e","x":14.6,"y":0.01},{"p":34,"s":"e","x":18,"y":0.013},{"p":34,"s":"e","x":26,"y":0.014},{"p":34,"s":"e","x":50,"y":0.0135},{"p":34,"s":"e","x":96,"y":0.0135},
{"p":35,"s":"g","x":9.8,"y":2.7e-6},{"p":35,"s":"g","x":10.8,"y":7.2e-4},{"p":35,"s":"g","x":12.25,"y":2.88e-3},{"p":35,"s":"g","x":14.7,"y":8.64e-3},{"p":35,"s":"g","x":19.6,"y":0.0202},{"p":35,"s":"g","x":29.4,"y":0.0336},{"p":35,"s":"g","x":49,"y":0.0432},{"p":35,"s":"g","x":100,"y":0.048},{"p":35,"s":"g","x":1000,"y":0.0152},{"p":35,"s":"g","x":5000,"y":0.0048},
{"p":35,"s":"r","x":10.9,"y":2.7e-6},{"p":35,"s":"r","x":12,"y":2.3e-4},{"p":35,"s":"r","x":13.6,"y":9.2e-4},{"p":35,"s":"r","x":16.35,"y":3.22e-3},{"p":35,"s":"r","x":21.8,"y":0.0101},{"p":35,"s":"r","x":32.7,"y":0.0239},{"p":35,"s":"r","x":54.5,"y":0.0368},{"p":35,"s":"r","x":100,"y":0.046},{"p":35,"s":"r","x":1000,"y":0.0149},{"p":35,"s":"r","x":5000,"y":0.0048},
{"p":35,"s":"e","x":10.9,"y":2.7e-6,"b":1},{"p":35,"s":"e","x":10.9,"y":7.9e-4},{"p":35,"s":"e","x":12.2,"y":5.6e-3},{"p":35,"s":"e","x":13.6,"y":0.014},{"p":35,"s":"e","x":15.7,"y":0.025},{"p":35,"s":"e","x":19.5,"y":0.04},{"p":35,"s":"e","x":28,"y":0.048},{"p":35,"s":"e","x":54,"y":0.05},{"p":35,"s":"e","x":100,"y":0.05},
{"p":36,"s":"g","x":9.8,"y":1.6e-6},{"p":36,"s":"g","x":10.8,"y":2.7e-4},{"p":36,"s":"g","x":12.25,"y":1.08e-3},{"p":36,"s":"g","x":14.7,"y":3.24e-3},{"p":36,"s":"g","x":19.6,"y":7.56e-3},{"p":36,"s":"g","x":29.4,"y":0.0126},{"p":36,"s":"g","x":49,"y":0.0162},{"p":36,"s":"g","x":100,"y":0.018},{"p":36,"s":"g","x":1000,"y":0.00502},{"p":36,"s":"g","x":5000,"y":0.0014},
{"p":36,"s":"r","x":11,"y":1.6e-6},{"p":36,"s":"r","x":12.1,"y":8.5e-5},{"p":36,"s":"r","x":13.75,"y":3.4e-4},{"p":36,"s":"r","x":16.5,"y":1.19e-3},{"p":36,"s":"r","x":22,"y":3.74e-3},{"p":36,"s":"r","x":33,"y":8.84e-3},{"p":36,"s":"r","x":55,"y":0.0136},{"p":36,"s":"r","x":100,"y":0.017},{"p":36,"s":"r","x":1000,"y":0.00488},{"p":36,"s":"r","x":5000,"y":0.0014},
{"p":36,"s":"e","x":11,"y":1.6e-6,"b":1},{"p":36,"s":"e","x":11,"y":1.6e-3},{"p":36,"s":"e","x":12.2,"y":4.6e-3},{"p":36,"s":"e","x":13.6,"y":8.1e-3},{"p":36,"s":"e","x":15.7,"y":0.012},{"p":36,"s":"e","x":19.5,"y":0.0165},{"p":36,"s":"e","x":28,"y":0.019},{"p":36,"s":"e","x":50,"y":0.019},{"p":36,"s":"e","x":93,"y":0.019},
{"p":37,"s":"g","x":10.2,"y":2.1e-7},{"p":37,"s":"g","x":11.2,"y":1.43e-5},{"p":37,"s":"g","x":12.75,"y":5.7e-5},{"p":37,"s":"g","x":15.3,"y":1.71e-4},{"p":37,"s":"g","x":20.4,"y":3.99e-4},{"p":37,"s":"g","x":30.6,"y":6.65e-4},{"p":37,"s":"g","x":51,"y":8.55e-4},{"p":37,"s":"g","x":100,"y":9.5e-4},{"p":37,"s":"g","x":1000,"y":2.67e-4},{"p":37,"s":"g","x":5000,"y":7.5e-5},
{"p":37,"s":"r","x":11.4,"y":2.1e-7},{"p":37,"s":"r","x":12.5,"y":5e-6},{"p":37,"s":"r","x":14.25,"y":2e-5},{"p":37,"s":"r","x":17.1,"y":7e-5},{"p":37,"s":"r","x":22.8,"y":2.2e-4},{"p":37,"s":"r","x":34.2,"y":5.2e-4},{"p":37,"s":"r","x":57,"y":8e-4},{"p":37,"s":"r","x":100,"y":1e-3},{"p":37,"s":"r","x":1000,"y":2.81e-4},{"p":37,"s":"r","x":5000,"y":7.9e-5},
{"p":37,"s":"e","x":13.6,"y":2.1e-7,"b":1},{"p":37,"s":"e","x":13.6,"y":2.4e-4},{"p":37,"s":"e","x":16.3,"y":3.5e-4},{"p":37,"s":"e","x":18.9,"y":4.9e-4},{"p":37,"s":"e","x":24,"y":6.8e-4},{"p":37,"s":"e","x":32,"y":8.7e-4},{"p":37,"s":"e","x":47,"y":1e-3},{"p":37,"s":"e","x":58,"y":1.05e-3},{"p":37,"s":"e","x":61,"y":1.2e-4},{"p":37,"s":"e","x":63,"y":8e-5},{"p":37,"s":"e","x":65,"y":1.1e-3},{"p":37,"s":"e","x":80,"y":1.05e-3},{"p":37,"s":"e","x":96,"y":1e-3}
]},
"vconcat":[{
"title":{"text":"Energy (eV)","orient":"bottom","anchor":"middle","fontSize":22,"font":"Liberation Serif","fontWeight":"normal","offset":28},
"data":{"name":"d"},
"facet":{"field":"p","type":"ordinal","title":null,"header":{"labelExpr":"['H⁺','H₂⁺','CH⁺','CH₂⁺','CH₃⁺','O⁺/CH₄⁺','OH⁺','H₃O⁺','C₂H₂⁺','C₂H₃⁺','C₂H₄⁺/CO⁺','C₂H₅⁺/CHO⁺','CH₂O⁺/C₂H₆⁺','CH₃O⁺','CH₄O⁺','C₃H₂⁺','C₃H₃⁺','C₂O⁺/C₃H₄⁺','C₂HO⁺/C₃H₅⁺','C₂H₂O⁺/C₃H₆⁺','C₂H₃O⁺/C₃H₇⁺','C₂H₄O⁺/C₃H₈⁺','C₂H₅O⁺','C₂H₆O⁺','C₄H₃⁺','C₄H₅⁺/C₃HO⁺','C₄H₆⁺/C₃H₂O⁺','C₄H₇⁺/C₃H₃O⁺','C₄H₈⁺/C₃H₄O⁺','C₃H₅O⁺/C₄H₉⁺','C₃H₆O⁺','C₃H₇O⁺','C₃H₈O⁺','C₄H₈O⁺','C₄H₉O⁺','C₄H₁₀O⁺','¹³C¹²C₃H₁₀O⁺'][datum.value-1]"}},
"columns":5,
"spacing":{"row":3.3,"column":9.5},
"resolve":{"scale":{"x":"independent","y":"independent"}},
"spec":{
"width":244,"height":140,
"encoding":{
"x":{"field":"x","type":"quantitative","title":null,"scale":{"type":"log","domain":[1,7000],"nice":false},
"axis":{"values":[1,2,3,4,5,6,7,8,9,10,20,30,40,50,60,70,80,90,100,200,300,400,500,600,700,800,900,1000,2000,3000,4000,5000,6000,7000],
"labelExpr":"abs(log(datum.value)/LN10-round(log(datum.value)/LN10))>0.01?'':'10'+replace(replace(replace(replace(replace(replace(replace(replace(replace(''+round(log(datum.value)/LN10),'-','⁻'),'0','⁰'),'1','¹'),'2','²'),'3','³'),'4','⁴'),'5','⁵'),'6','⁶'),'7','⁷')",
"gridColor":{"condition":{"test":"abs(log(datum.value)/LN10-round(log(datum.value)/LN10))<0.01","value":"#aaaaaa"},"value":"#e4e4e4"},
"gridDash":{"condition":{"test":"abs(log(datum.value)/LN10-round(log(datum.value)/LN10))<0.01","value":[2,2]},"value":[]},
"tickSize":{"condition":{"test":"abs(log(datum.value)/LN10-round(log(datum.value)/LN10))<0.01","value":3.5},"value":2}}},
"y":{"field":"y","type":"quantitative","title":null,"scale":{"type":"log","nice":false,"zero":false},
"axis":{"values":[1e-7,2e-7,3e-7,4e-7,5e-7,6e-7,7e-7,8e-7,9e-7,1e-6,2e-6,3e-6,4e-6,5e-6,6e-6,7e-6,8e-6,9e-6,1e-5,2e-5,3e-5,4e-5,5e-5,6e-5,7e-5,8e-5,9e-5,1e-4,2e-4,3e-4,4e-4,5e-4,6e-4,7e-4,8e-4,9e-4,1e-3,2e-3,3e-3,4e-3,5e-3,6e-3,7e-3,8e-3,9e-3,0.01,0.02,0.03,0.04,0.05,0.06,0.07,0.08,0.09,0.1,0.2,0.3,0.4,0.5,0.6,0.7,0.8,0.9,1,2,3,4,5,6,7,8,9],
"labelExpr":"abs(log(datum.value)/LN10-round(log(datum.value)/LN10))>0.01?'':'10'+replace(replace(replace(replace(replace(replace(replace(replace(replace(''+round(log(datum.value)/LN10),'-','⁻'),'0','⁰'),'1','¹'),'2','²'),'3','³'),'4','⁴'),'5','⁵'),'6','⁶'),'7','⁷')",
"gridColor":{"condition":{"test":"abs(log(datum.value)/LN10-round(log(datum.value)/LN10))<0.01","value":"#aaaaaa"},"value":"#e4e4e4"},
"gridDash":{"condition":{"test":"abs(log(datum.value)/LN10-round(log(datum.value)/LN10))<0.01","value":[2,2]},"value":[]},
"tickSize":{"condition":{"test":"abs(log(datum.value)/LN10-round(log(datum.value)/LN10))<0.01","value":3.5},"value":2}}},
"color":{"field":"s","type":"nominal","scale":{"domain":["g","e","r"],"range":["#008000","#0000ff","#ff0000"]},
"legend":{"orient":"none","legendX":652,"legendY":1300,"direction":"horizontal","title":null,"labelExpr":"datum.label=='g'?'mBEB − B':datum.label=='e'?'Experiment':'MSD'","labelFont":"Liberation Serif","labelFontStyle":"italic","labelFontSize":7,"labelColor":"#333","symbolSize":50,"symbolStrokeWidth":1,"strokeColor":"#cccccc","fillColor":"white","padding":3,"cornerRadius":2,"columnPadding":26,"labelOffset":8}}
},
"layer":[
{"transform":[{"filter":"datum.s!='e'"}],"mark":{"type":"line","strokeWidth":1.1,"interpolate":"monotone","clip":true}},
{"transform":[{"filter":"datum.s=='e'"}],"mark":{"type":"line","strokeWidth":1,"clip":true}},
{"transform":[{"filter":"datum.s=='e' && datum.b!=1"}],"mark":{"type":"point","filled":false,"size":12,"strokeWidth":1.2},
"encoding":{"shape":{"field":"s","type":"nominal","scale":{"domain":["g","e","r"],"range":["stroke","diamond","stroke"]},
"legend":{"orient":"none","legendX":652,"legendY":1300,"direction":"horizontal","title":null,"labelExpr":"datum.label=='g'?'mBEB − B':datum.label=='e'?'Experiment':'MSD'","labelFont":"Liberation Serif","labelFontStyle":"italic","labelFontSize":7,"labelColor":"#333","symbolSize":50,"symbolStrokeWidth":1,"strokeColor":"#cccccc","fillColor":"white","padding":3,"cornerRadius":2,"columnPadding":26,"labelOffset":8}}}}
]
}
}]
}
